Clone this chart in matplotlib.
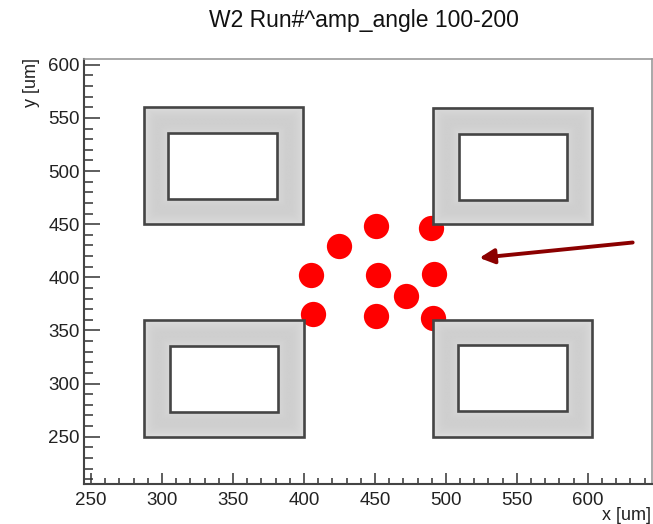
import matplotlib
matplotlib.use("Agg")
import matplotlib.pyplot as plt
import numpy as np
from matplotlib.patches import Rectangle
from matplotlib.ticker import MultipleLocator

plt.rcParams['font.family'] = ['Liberation Sans', 'DejaVu Sans']

# hit positions [um]
hit_x = [450.5, 489.7, 424.7, 405.0, 452.1, 491.8, 471.8, 406.4, 451.0, 490.8]
hit_y = [448.4, 446.5, 429.6, 402.3, 402.3, 403.2, 382.6, 365.3, 363.7, 361.8]

# pads: outer frame and inner opening [um]
pad_x0 = [287.0, 287.5, 491.0, 491.0]
pad_x1 = [399.5, 400.0, 603.2, 603.2]
pad_y0 = [450.0, 249.5, 250.0, 449.8]
pad_y1 = [560.0, 359.5, 360.0, 559.0]
hole_x0 = [304.0, 305.6, 508.7, 508.9]
hole_x1 = [381.0, 381.8, 585.5, 585.3]
hole_y0 = [473.6, 273.2, 274.0, 473.0]
hole_y1 = [535.4, 335.3, 336.0, 534.8]

# direction marker
arrow_tail = (631.6, 432.8)
arrow_head = (523.6, 418.3)

fig = plt.figure(figsize=(6.53, 5.24), dpi=100)
ax = fig.add_axes([0.1286, 0.0763, 0.998 - 0.1286, 0.8874 - 0.0763])
ax.set_xlim(245, 645)
ax.set_ylim(205.5, 605.5)

ax.plot(hit_x, hit_y, 'o', color='#ff0000', markersize=18.2,
        markeredgewidth=0, zorder=2)

for i in range(len(pad_x0)):
    # shaded metal frame: lighter at the outer rim, darker toward the opening
    xs = np.linspace(pad_x0[i], pad_x1[i], 200)
    ys = np.linspace(pad_y0[i], pad_y1[i], 200)
    X, Y = np.meshgrid(xs, ys)
    d_out = np.minimum.reduce([X - pad_x0[i], pad_x1[i] - X,
                               Y - pad_y0[i], pad_y1[i] - Y])
    d_in = np.maximum.reduce([hole_x0[i] - X, X - hole_x1[i],
                              hole_y0[i] - Y, Y - hole_y1[i]])
    t = np.clip(d_out / np.maximum(d_out + d_in, 1e-6), 0, 1)
    shade = 0.875 - 0.065 * np.sin(np.pi * np.clip(t * 0.9, 0, 1)) ** 0.7
    ax.imshow(shade, cmap='gray', vmin=0, vmax=1, origin='lower',
              extent=(pad_x0[i], pad_x1[i], pad_y0[i], pad_y1[i]),
              aspect='auto', interpolation='bilinear', zorder=3)
    ax.add_patch(Rectangle((pad_x0[i], pad_y0[i]), pad_x1[i] - pad_x0[i],
                           pad_y1[i] - pad_y0[i], facecolor='none',
                           edgecolor='#454545', lw=1.9, zorder=4))
    ax.add_patch(Rectangle((hole_x0[i], hole_y0[i]), hole_x1[i] - hole_x0[i],
                           hole_y1[i] - hole_y0[i], facecolor='white',
                           edgecolor='#454545', lw=1.9, zorder=4))

ax.annotate('', xy=arrow_head, xytext=arrow_tail,
            arrowprops=dict(arrowstyle='-|>', color='#8b0000', lw=2.8,
                            mutation_scale=22, shrinkA=0, shrinkB=0),
            zorder=5)

ax.xaxis.set_major_locator(MultipleLocator(50))
ax.xaxis.set_minor_locator(MultipleLocator(10))
ax.yaxis.set_major_locator(MultipleLocator(50))
ax.yaxis.set_minor_locator(MultipleLocator(10))
ax.tick_params(axis='both', which='both', direction='in', colors='#333333',
               width=1.1, labelcolor='#222222', labelsize=13.5)
ax.tick_params(axis='x', which='major', length=8.2, pad=6)
ax.tick_params(axis='x', which='minor', length=4.1)
ax.tick_params(axis='y', which='major', length=11.5, pad=3)
ax.tick_params(axis='y', which='minor', length=6.2)

for s in ['left', 'bottom']:
    ax.spines[s].set_color('#444444')
    ax.spines[s].set_linewidth(1.5)
for s in ['top', 'right']:
    ax.spines[s].set_color('#999999')
    ax.spines[s].set_linewidth(1.2)

fig.text(0.557, 0.96, 'W2 Run#^amp_angle 100-200', ha='center', va='center',
         fontsize=16.5, color='#111111')
fig.text(0.997, 0.016, 'x [um]', ha='right', va='center', fontsize=13,
         color='#222222')
fig.text(0.049, 0.889, 'y [um]', ha='center', va='top', rotation=90,
         fontsize=13, color='#222222')

fig.savefig('out.png', dpi=100)
